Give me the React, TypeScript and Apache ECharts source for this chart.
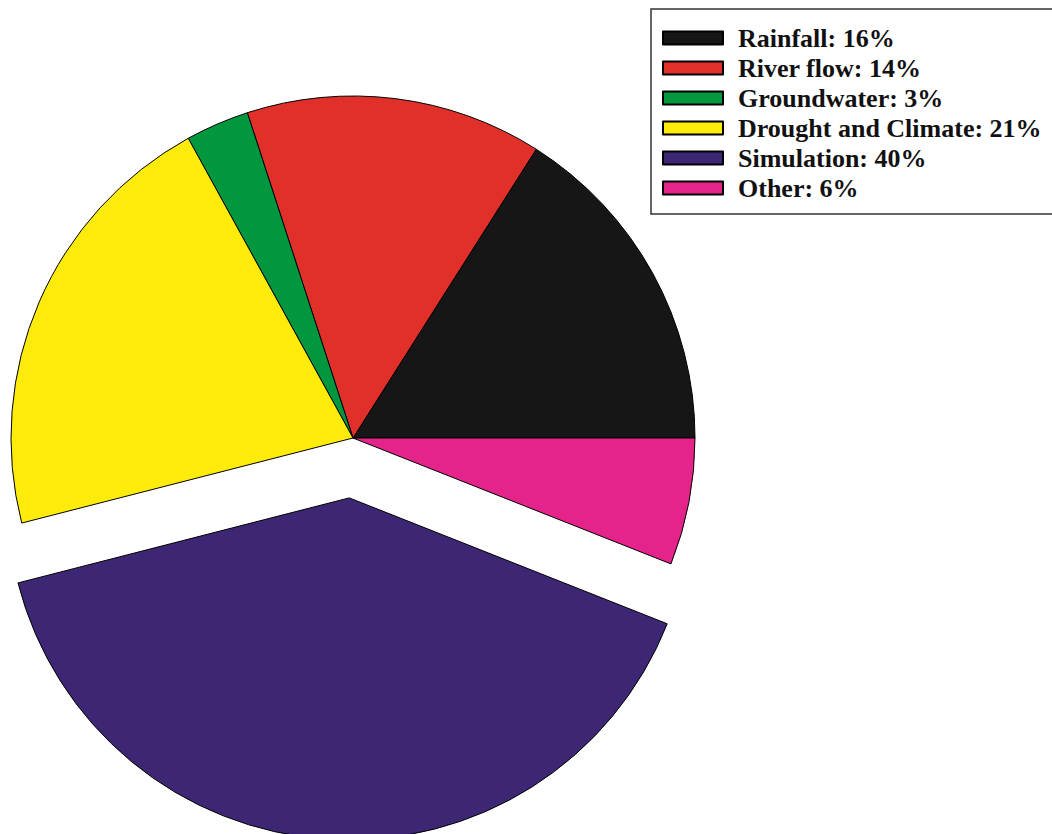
import React, { useEffect, useRef } from "react";
import * as echarts from "echarts";

const categories = ["Rainfall", "River flow", "Groundwater", "Drought and Climate", "Simulation", "Other"];
const values = [16, 14, 3, 21, 40, 6];
const colors = ["#161616", "#e1302a", "#00973f", "#fdeb0b", "#3d2774", "#e4248a"];
const explodedIndex = 4;

export default function App() {
  const ref = useRef<HTMLDivElement>(null);
  useEffect(() => {
    if (!ref.current) return;
    const chart = echarts.init(ref.current, null, { renderer: "svg" });
    const data = categories.map((c, i) => ({
      name: `${c}: ${values[i]}%`,
      value: values[i],
      selected: i === explodedIndex,
      itemStyle: { color: colors[i] },
    }));
    chart.setOption({
      animation: false,
      backgroundColor: "#ffffff",
      legend: {
        orient: "vertical",
        left: 651,
        top: 9,
        padding: [16, 40, 13, 11],
        itemWidth: 60,
        itemHeight: 13,
        itemGap: 4,
        icon: "rect",
        selectedMode: false,
        borderColor: "#333",
        borderWidth: 1.5,
        textStyle: {
          fontFamily: "Liberation Serif",
          fontWeight: "bold",
          fontSize: 26,
          color: "#111",
          padding: [0, 0, 0, 10],
        },
        data: data.map((d) => d.name),
      },
      series: [
        {
          type: "pie",
          center: [353, 438],
          radius: 342,
          startAngle: 0,
          clockwise: false,
          selectedMode: "single",
          selectedOffset: 60,
          avoidLabelOverlap: false,
          label: { show: false },
          labelLine: { show: false },
          emphasis: { disabled: true },
          itemStyle: { borderColor: "#000", borderWidth: 1 },
          data,
        },
      ],
    });
    return () => chart.dispose();
  }, []);
  return (
    <div
      ref={ref}
      style={{ position: "absolute", left: 0, top: 0, width: 1052, height: 834, background: "#fff" }}
    />
  );
}
